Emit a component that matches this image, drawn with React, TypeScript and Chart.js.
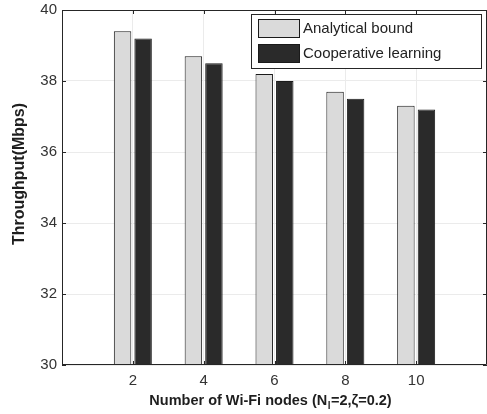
import React, { useEffect, useRef } from 'react';
import { Chart, registerables } from 'chart.js';

Chart.register(...registerables);

// Throughput per number of Wi-Fi nodes
const nodeCounts = [2, 4, 6, 8, 10];
const analyticalBound = [39.4, 38.7, 38.2, 37.7, 37.3];
const cooperativeLearning = [39.2, 38.5, 38.0, 37.5, 37.2];
const seriesNames = ['Analytical bound', 'Cooperative learning'];
const seriesFill = ['#dadada', '#2a2a2a'];
const yRange = [30, 40];
const xRange = [0, 12];

const FONT = '"Liberation Sans", Arial, Helvetica, sans-serif';
const W = 487;
const H = 414;

// Box frame with inward ticks on all four sides (drawn above the bars)
const framePlugin = {
  id: 'frame',
  afterDatasetsDraw(chart: any) {
    const { ctx, chartArea: a, scales } = chart;
    const x = scales.x;
    const y = scales.y;
    ctx.save();
    ctx.strokeStyle = '#262626';
    ctx.lineWidth = 1;
    ctx.beginPath();
    ctx.moveTo(a.left + 0.5, a.top + 0.5);
    ctx.lineTo(a.right - 0.5, a.top + 0.5);
    ctx.lineTo(a.right - 0.5, a.bottom - 0.5);
    ctx.lineTo(a.left + 0.5, a.bottom - 0.5);
    ctx.closePath();
    ctx.stroke();
    const len = 4;
    ctx.beginPath();
    x.ticks.forEach((t: any) => {
      const px = Math.round(x.getPixelForValue(t.value)) + 0.5;
      ctx.moveTo(px, a.bottom);
      ctx.lineTo(px, a.bottom - len);
      ctx.moveTo(px, a.top);
      ctx.lineTo(px, a.top + len);
    });
    y.ticks.forEach((t: any) => {
      const py = Math.round(y.getPixelForValue(t.value)) + 0.5;
      ctx.moveTo(a.left, py);
      ctx.lineTo(a.left + len, py);
      ctx.moveTo(a.right, py);
      ctx.lineTo(a.right - len, py);
    });
    ctx.stroke();
    ctx.restore();
  },
};

// Legend box inside the top-right of the plot
const boxLegendPlugin = {
  id: 'boxLegend',
  afterDraw(chart: any) {
    const { ctx, chartArea: a } = chart;
    const bx = 251;
    const by = a.top + 4;
    const bw = 231;
    const bh = 55;
    ctx.save();
    ctx.fillStyle = '#ffffff';
    ctx.fillRect(bx, by, bw, bh);
    ctx.strokeStyle = '#262626';
    ctx.lineWidth = 1;
    ctx.strokeRect(bx + 0.5, by + 0.5, bw - 1, bh - 1);
    ctx.font = `15px ${FONT}`;
    ctx.textBaseline = 'middle';
    ctx.textAlign = 'left';
    chart.data.datasets.forEach((ds: any, i: number) => {
      const sy = by + 5 + i * 25;
      ctx.fillStyle = ds.backgroundColor;
      ctx.fillRect(bx + 7, sy, 42, 19);
      ctx.strokeStyle = '#1a1a1a';
      ctx.strokeRect(bx + 7.5, sy + 0.5, 41, 18);
      ctx.fillStyle = '#222222';
      ctx.fillText(ds.label, bx + 52, sy + 10);
    });
    ctx.restore();
  },
};

// Axis titles, including the subscript in the x title
const axisTitlePlugin = {
  id: 'axisTitles',
  afterDraw(chart: any) {
    const { ctx } = chart;
    ctx.save();
    ctx.fillStyle = '#1e1e1e';
    ctx.font = `bold 16px ${FONT}`;
    ctx.textBaseline = 'alphabetic';

    // y title
    ctx.save();
    ctx.translate(24, 174);
    ctx.rotate(-Math.PI / 2);
    ctx.textAlign = 'center';
    ctx.fillText('Throughput(Mbps)', 0, 0);
    ctx.restore();

    // x title with subscript
    const part1 = 'Number of Wi-Fi nodes (N';
    const sub = 'l';
    const part2 = '=2,\u03B6=0.2)';
    const mainFont = `bold 14.5px ${FONT}`;
    const subFont = `bold 10px ${FONT}`;
    ctx.font = mainFont;
    const w1 = ctx.measureText(part1).width;
    const w3 = ctx.measureText(part2).width;
    ctx.font = subFont;
    const w2 = ctx.measureText(sub).width;
    const total = w1 + w2 + w3;
    const cx = 270;
    const baseY = 405;
    let x0 = cx - total / 2;
    ctx.textAlign = 'left';
    ctx.font = mainFont;
    ctx.fillText(part1, x0, baseY);
    x0 += w1;
    ctx.font = subFont;
    ctx.fillText(sub, x0 + 0.5, baseY + 4);
    x0 += w2 + 1;
    ctx.font = mainFont;
    ctx.fillText(part2, x0, baseY);
    ctx.restore();
  },
};

export default function App() {
  const canvasRef = useRef<HTMLCanvasElement | null>(null);

  useEffect(() => {
    const canvas = canvasRef.current;
    if (!canvas) return;
    const chart = new Chart(canvas, {
      type: 'bar',
      data: {
        datasets: [
          {
            label: seriesNames[0],
            data: nodeCounts.map((n, i) => ({ x: n, y: analyticalBound[i] })),
            backgroundColor: seriesFill[0],
            borderColor: '#1a1a1a',
            borderWidth: 1,
            borderSkipped: 'start',
          },
          {
            label: seriesNames[1],
            data: nodeCounts.map((n, i) => ({ x: n, y: cooperativeLearning[i] })),
            backgroundColor: seriesFill[1],
            borderColor: '#1a1a1a',
            borderWidth: 1,
            borderSkipped: 'start',
          },
        ],
      },
      options: {
        responsive: false,
        animation: false,
        events: [],
        categoryPercentage: 0.58,
        barPercentage: 0.85,
        layout: { padding: { top: 10, right: 0, left: 0, bottom: 0 } },
        plugins: {
          legend: { display: false },
          tooltip: { enabled: false },
        },
        scales: {
          x: {
            type: 'linear',
            offset: false,
            min: xRange[0],
            max: xRange[1],
            grid: { color: '#ebebeb', drawTicks: false, offset: false },
            border: { display: false },
            ticks: {
              stepSize: 2,
              padding: 7,
              color: '#333333',
              font: { family: FONT, size: 15 },
              maxRotation: 0,
              callback: (v: any) =>
                v === xRange[0] || v === xRange[1] ? '' : String(v),
            },
            afterFit: (s: any) => {
              s.height = 49;
              s.paddingLeft = 0;
              s.paddingRight = 0;
            },
          },
          y: {
            min: yRange[0],
            max: yRange[1],
            grid: { color: '#ebebeb', drawTicks: false },
            border: { display: false },
            ticks: {
              stepSize: 2,
              padding: 5,
              color: '#333333',
              font: { family: FONT, size: 15 },
            },
            afterFit: (s: any) => {
              s.width = 62;
              s.paddingTop = 0;
              s.paddingBottom = 0;
            },
          },
        },
      },
      plugins: [framePlugin, boxLegendPlugin, axisTitlePlugin],
    });
    return () => chart.destroy();
  }, []);

  return (
    <div
      style={{
        position: 'fixed',
        left: 0,
        top: 0,
        width: W,
        height: H,
        background: '#ffffff',
      }}
    >
      <canvas
        ref={canvasRef}
        width={W}
        height={H}
        style={{ width: W, height: H, display: 'block' }}
      />
    </div>
  );
}
